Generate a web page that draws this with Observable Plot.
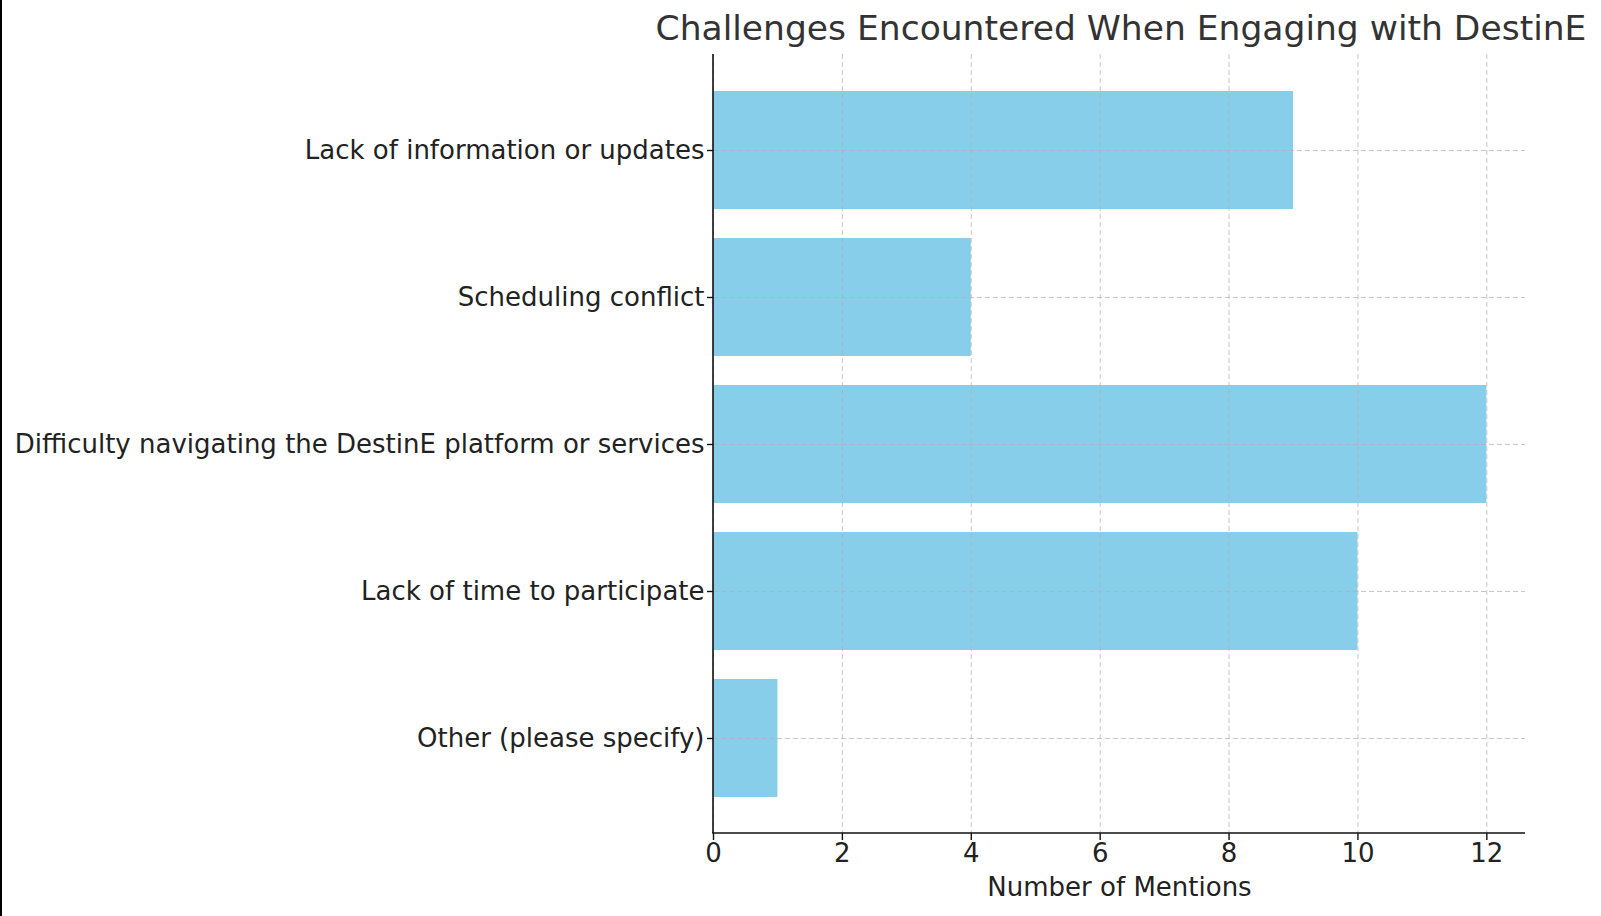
<!DOCTYPE html>
<html>
<head>
<meta charset="utf-8">
<script src="https://cdn.jsdelivr.net/npm/d3@7"></script>
<script src="https://cdn.jsdelivr.net/npm/@observablehq/plot@0.6"></script>
<style>
  html, body { margin: 0; padding: 0; background: #fff; }
  #wrap { position: relative; width: 1601px; height: 916px; overflow: hidden; box-sizing: border-box; border-left: 2px solid #000; }
  #title { position: absolute; left: 0; top: 8px; width: 1601px; font-family: "DejaVu Sans", sans-serif; font-size: 34.5px; color: #333; white-space: nowrap; }
  #title span { position: absolute; transform: translateX(-50%); left: 1119px; }
  #chart { position: absolute; left: -2px; top: 0; }
</style>
</head>
<body>
<div id="wrap">
  <div id="chart"></div>
  <div id="title"><span>Challenges Encountered When Engaging with DestinE</span></div>
</div>
<script>
const categories = [
  "Lack of information or updates",
  "Scheduling conflict",
  "Difficulty navigating the DestinE platform or services",
  "Lack of time to participate",
  "Other (please specify)"
];
const mentions = [9, 4, 12, 10, 1];
const xTicks = [0, 2, 4, 6, 8, 10, 12];
const xLabel = "Number of Mentions";

const data = categories.map((c, i) => ({category: c, value: mentions[i]}));

const spine = (index, scales, values, dimensions) => {
  const {width, height, marginLeft, marginRight, marginTop, marginBottom} = dimensions;
  const g = d3.create("svg:g");
  g.append("line")
    .attr("x1", marginLeft).attr("x2", marginLeft)
    .attr("y1", marginTop).attr("y2", height - marginBottom)
    .attr("stroke", "#111").attr("stroke-width", 1.6);
  g.append("line")
    .attr("x1", marginLeft - 0.8).attr("x2", width - marginRight)
    .attr("y1", height - marginBottom).attr("y2", height - marginBottom)
    .attr("stroke", "#111").attr("stroke-width", 1.6);
  return g.node();
};

const chart = Plot.plot({
  width: 1601,
  height: 916,
  marginLeft: 713,
  marginRight: 76,
  marginTop: 54,
  marginBottom: 83,
  style: {fontFamily: "DejaVu Sans, sans-serif", fontSize: "26px", color: "#222", background: "transparent"},
  x: {domain: [0, 12.6], ticks: xTicks},
  y: {domain: categories, paddingInner: 0.2, paddingOuter: 0.235},
  marks: [
    Plot.barX(data, {y: "category", x: "value", fill: "#87CEEB"}),
    Plot.gridX(xTicks, {stroke: "#b0b0b0", strokeOpacity: 0.7, strokeDasharray: "5,3", strokeWidth: 1}),
    Plot.gridY(categories, {stroke: "#b0b0b0", strokeOpacity: 0.7, strokeDasharray: "5,3", strokeWidth: 1, x1: 0, x2: 12.6}),
    Plot.axisX(xTicks, {tickSize: 7, tickPadding: 3, stroke: "#111", strokeWidth: 1.4, fontSize: 26, fill: "#222", label: xLabel, labelAnchor: "center", labelOffset: 62, labelArrow: "none"}),
    Plot.axisY({tickSize: 6, tickPadding: 3, stroke: "#111", strokeWidth: 1.4, fontSize: 26, fill: "#222", label: null}),
    spine
  ]
});
document.getElementById("chart").appendChild(chart);
</script>
</body>
</html>
